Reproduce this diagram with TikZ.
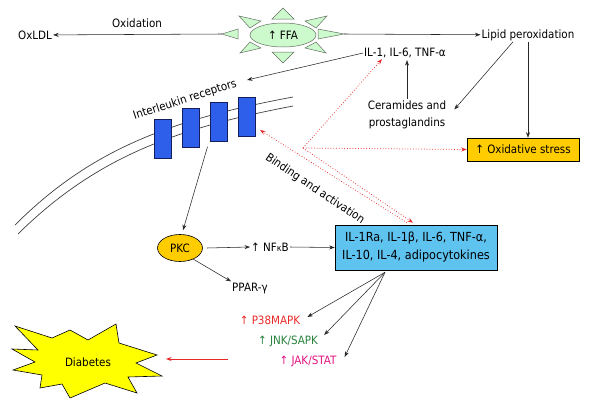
\documentclass[tikz,border=0pt]{standalone}
\usepackage{fontspec}
\setmainfont{DejaVu Sans}[FakeStretch=0.9]
\usetikzlibrary{arrows.meta,shapes.geometric,calc}
\definecolor{sungreen}{RGB}{204,250,204}
\definecolor{sunedge}{RGB}{100,110,100}
\definecolor{recblue}{RGB}{45,95,235}
\definecolor{recedge}{RGB}{20,30,90}
\definecolor{gold}{RGB}{255,204,0}
\definecolor{boxblue}{RGB}{95,195,240}
\definecolor{dyellow}{RGB}{255,255,0}
\definecolor{pred}{RGB}{232,40,40}
\definecolor{pgreen}{RGB}{40,130,60}
\definecolor{pmag}{RGB}{225,20,130}
\begin{document}
\begin{tikzpicture}[x=1pt,y=-1pt,
  font=\fontsize{11.5}{13.5}\selectfont,
  arr/.style={-{Stealth[length=5.5pt,width=4pt]}, line width=0.55pt, black!85},
  rarr/.style={-{Stealth[length=5.5pt,width=4pt]}, pred, dotted, line width=0.75pt},
  ray/.style={fill=sungreen, draw=sunedge, line width=0.5pt},
  lbl/.style={inner sep=1pt},
  receptor/.style={draw=recedge, fill=recblue, minimum width=17pt, minimum height=39pt, inner sep=0pt, line width=0.6pt},
  memb/.style={draw=black!75, line width=0.7pt},
]
\useasboundingbox (0,0) rectangle (600,418);

% ---- FFA sun ----
\filldraw[ray] (272,19) -- (294,19) -- (283,8) -- cycle;
\filldraw[ray] (272,52) -- (294,52) -- (283,63) -- cycle;
\filldraw[ray] (238,29) -- (238,39) -- (222,34) -- cycle;
\filldraw[ray] (318,29) -- (318,39) -- (344,34) -- cycle;
\filldraw[ray] (261,21) -- (250,28) -- (239,16) -- cycle;
\filldraw[ray] (305,21) -- (316,28) -- (327,16) -- cycle;
\filldraw[ray] (250,42) -- (261,48) -- (240,53) -- cycle;
\filldraw[ray] (316,42) -- (305,48) -- (326,53) -- cycle;
\node[ellipse, ray, minimum width=66pt, minimum height=24pt, inner sep=0pt] (ffa) at (283,35) {↑ FFA};
\coordinate (ffaL) at (222,34);
\coordinate (ffaR) at (344,34);

% ---- top texts ----
\node[lbl] (oxldl) at (35,35) {OxLDL};
\node[lbl] (oxid) at (137,23) {Oxidation};
\node[lbl] (lipid) at (528,35) {Lipid peroxidation};
\node[lbl] (il) at (405,53) {IL-1, IL-6, TNF-α};
\node[lbl, rotate=18] (ilr) at (185,100) {Interleukin receptors};
\coordinate (ilrtip) at (247,80);
\node[lbl, align=center, font=\fontsize{11.5}{17}\selectfont] (cer) at (407,114.5) {Ceramides and\\prostaglandins};
\node[draw, fill=gold, line width=0.6pt, minimum width=112pt, minimum height=23pt, inner sep=0pt] (ox) at (523,149.5) {↑ Oxidative stress};

\draw[arr] (ffaL) -- (oxldl);
\draw[arr] (ffaR) -- (lipid);
\draw[arr] (il.west) -- (ilrtip);
\draw[arr] (cer.north -| il.south) ++(2,0) -- ($(il.south)+(2,1)$);
\draw[arr] ($(lipid.south)+(-15,0)$) -- ($(cer.east)+(7,-5)$);
\draw[arr] (lipid.south) -- (lipid.south |- ox.north);

% ---- membrane ----
\draw[memb] (15,225) .. controls (93,147) and (175,119) .. (293,97);
\draw[memb] (18,234) .. controls (97,156) and (178,128) .. (293,106);
\node[receptor] (r1) at (163,138.5) {};
\node[receptor] (r2) at (191,127.5) {};
\node[receptor] (r3) at (218.5,122) {};
\node[receptor] (r4) at (246.5,116.5) {};

% ---- middle ----
\node[ellipse, draw, fill=gold, line width=0.6pt, minimum width=45pt, minimum height=27pt, inner sep=0pt] (pkc) at (180,248) {PKC};
\node[lbl] (nf) at (270,247) {↑ NF{\fontsize{9}{10}\selectfont κ}B};
\node[draw, fill=boxblue, line width=0.6pt, minimum width=162pt, minimum height=45pt, inner sep=0pt, align=center, font=\fontsize{12.5}{18}\selectfont] (box) at (416,247.5) {IL-1Ra, IL-1β, IL-6, TNF-α,\\IL-10, IL-4, adipocytokines};
\node[lbl] (ppar) at (250,288) {PPAR-γ};

\draw[arr] ($(r3.south)+(-11,5)$) -- ($(pkc.north)+(3,-4)$);
\draw[arr] (pkc.east) ++(4,0) -- (nf.west);
\draw[arr] (nf.east) -- (box.west);
\draw[arr] (pkc.-40) -- (ppar.north west);

% ---- red dotted ----
\coordinate (br) at (303,148);
\coordinate (r4tip) at (260,130);
\draw[rarr] (br) -- ($(il.south west)+(19,0)$);
\draw[rarr] (br) -- (ox.west);
\draw[rarr] (br) -- ($(box.north)+(-3,-2)$);
\draw[rarr] ($(box.north)+(-9,-2)$) -- (r4tip);
\node[lbl, rotate=-34] (bind) at (315,189) {Binding and activation};

% ---- kinases ----
\node[lbl, text=pred] (p38) at (270,320) {↑ P38MAPK};
\node[lbl, text=pgreen] (jnk) at (288,341) {↑ JNK/SAPK};
\node[lbl, text=pmag] (jak) at (308,361) {↑ JAK/STAT};
\coordinate (fan) at ($(box.south)+(-31,2)$);
\draw[arr] (fan) -- ($(p38.east)+(6,-3)$);
\draw[arr] (fan) -- ($(jnk.east)+(5,-6)$);
\draw[arr] (fan) -- ($(jak.east)+(7,-4)$);

% ---- Diabetes ----
\filldraw[fill=dyellow, draw=black, line width=0.6pt]
  (12,349) -- (38,350) -- (15,326) -- (52,338) -- (70,330) -- (88,340)
  -- (116,324) -- (119,343) -- (157,355) -- (136,363) -- (162,376)
  -- (128,377) -- (137,393) -- (105,383) -- (70,398) -- (62,384)
  -- (40,388) -- (42,375) -- (13,370) -- (35,362) -- cycle;
\node[lbl] (diab) at (88,362) {Diabetes};
\coordinate (dstart) at (228,359);
\coordinate (dtip) at (166,359);
\draw[-{Stealth[length=5.5pt,width=4pt]}, pred, line width=0.75pt] (dstart) -- (dtip);
\end{tikzpicture}
\end{document}
